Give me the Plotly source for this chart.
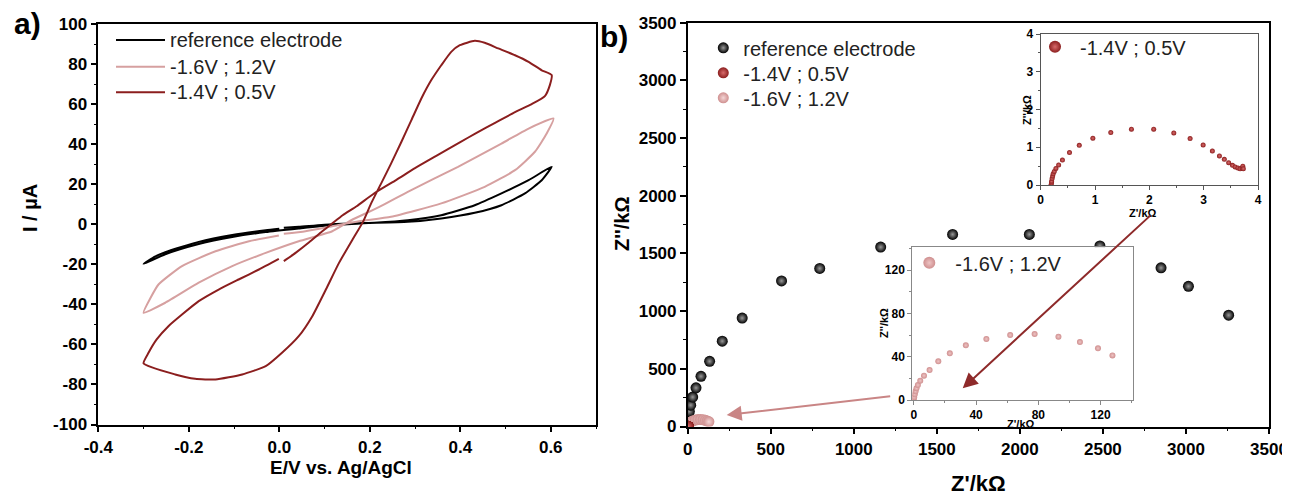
import plotly.graph_objects as go

# The page body adds an 8 px margin, so every position is shifted by it
OFF = 8
W, H = 1290, 495

# ---------------- Panel a: cyclic voltammograms ----------------
cv_ref_E = [0.010, 0.043, 0.117, 0.191, 0.284, 0.358, 0.432, 0.491, 0.543, 0.580, 0.602,
            0.551, 0.491, 0.432, 0.358, 0.284, 0.210, 0.117, 0.043, -0.030, -0.104, -0.178,
            -0.252, -0.300, -0.275, -0.252, -0.178, -0.104, -0.030, 0.000]
cv_ref_I = [-1.8, -1.3, 0.0, 0.6, 1.2, 2.9, 5.7, 9.5, 15.4, 22.0, 28.7,
            22.0, 15.4, 9.5, 4.5, 2.0, 0.7, -0.4, -2.1, -3.9, -6.4, -9.9,
            -15.0, -19.8, -16.2, -13.9, -8.8, -5.4, -3.0, -2.2]

cv_16_E = [0.010, 0.058, 0.117, 0.176, 0.247, 0.358, 0.454, 0.521, 0.565, 0.591, 0.606,
           0.551, 0.491, 0.395, 0.284, 0.220, 0.159, 0.117, 0.043, -0.030, -0.104, -0.178,
           -0.252, -0.300, -0.285, -0.267, -0.215, -0.141, -0.067, -0.001]
cv_16_I = [-4.8, -3.5, -1.0, 1.5, 3.7, 10.4, 18.7, 27.0, 36.2, 45.3, 52.8,
           47.8, 40.3, 28.7, 16.2, 8.5, 2.0, -3.5, -8.5, -14.3, -20.9, -29.2,
           -39.2, -44.2, -37.0, -30.1, -20.9, -13.5, -8.5, -5.6]

cv_14_E = [0.010, 0.036, 0.066, 0.095, 0.115, 0.140, 0.171, 0.210, 0.259, 0.300, 0.346,
           0.400, 0.434, 0.480, 0.521, 0.558, 0.587, 0.598, 0.602, 0.580, 0.551, 0.521,
           0.484, 0.454, 0.432, 0.399, 0.380, 0.358, 0.336, 0.314, 0.292, 0.270, 0.247,
           0.225, 0.203, 0.185, 0.162, 0.132, 0.103, 0.073, 0.043, 0.006, -0.030, -0.082,
           -0.141, -0.186, -0.230, -0.300, -0.289, -0.271, -0.245, -0.215, -0.178, -0.134,
           -0.090, -0.045, -0.001]
cv_14_I = [-18.4, -14.3, -9.0, -3.5, 0.0, 4.5, 9.0, 15.5, 22.2, 28.0, 34.0,
           41.0, 45.4, 51.0, 56.0, 60.0, 64.0, 69.5, 74.5, 76.9, 81.1, 84.4,
           87.8, 90.6, 91.6, 89.4, 86.1, 79.4, 72.0, 62.8, 52.0, 41.2, 30.3,
           20.3, 10.4, 1.2, -7.6, -19.3, -32.6, -45.9, -55.9, -64.2, -70.9, -75.0,
           -77.5, -77.2, -75.0, -69.5, -64.2, -57.5, -50.9, -45.1, -38.4, -32.6,
           -27.6, -22.6, -17.3]

cv_E_ticks = [-0.4, -0.2, 0.0, 0.2, 0.4, 0.6]
cv_E_ticktext = ["-0.4", "-0.2", "0.0", "0.2", "0.4", "0.6"]
cv_I_ticks = [-100, -80, -60, -40, -20, 0, 20, 40, 60, 80, 100]
cv_I_ticktext = ["-100", "-80", "-60", "-40", "-20", "0", "20", "40", "60", "80", "100"]

# ---------------- Panel b: Nyquist plots ----------------
eis_ref_x = [6, 10, 18, 30, 50, 80, 132, 208, 328, 565, 795, 1162, 1595, 2057, 2482, 2850, 3015, 3257]
eis_ref_y = [70, 130, 185, 255, 335, 435, 565, 740, 940, 1262, 1370, 1555, 1665, 1665, 1565, 1375, 1215, 965]

eis_14_x = [0.19, 0.20, 0.20, 0.21, 0.22, 0.23, 0.25, 0.28, 0.33, 0.40, 0.53, 0.71, 0.96, 1.29, 1.67,
            2.08, 2.45, 2.75, 2.99, 3.16, 3.29, 3.38, 3.46, 3.53, 3.58, 3.63, 3.67, 3.71, 3.72, 3.73]
eis_14_y = [0.00, 0.05, 0.10, 0.17, 0.24, 0.30, 0.36, 0.44, 0.53, 0.66, 0.86, 1.05, 1.24, 1.39, 1.48,
            1.48, 1.38, 1.23, 1.06, 0.90, 0.77, 0.68, 0.59, 0.52, 0.48, 0.45, 0.43, 0.45, 0.50, 0.43]

eis_16_x = [0.0, 0.2, 0.6, 1.1, 1.7, 2.6, 4.1, 6.5, 10.1, 15.7, 23.1, 33.4, 46.6, 61.9, 77.6,
            92.9, 106.7, 118.3, 127.6]
eis_16_y = [0.0, 2.5, 5.2, 8.0, 10.8, 13.8, 17.8, 22.5, 27.7, 35.7, 43.1, 50.5, 56.3, 60.0, 60.9,
            58.5, 53.5, 47.7, 41.2]

z_ticks = [0, 500, 1000, 1500, 2000, 2500, 3000, 3500]
in1_ticks = [0, 1, 2, 3, 4]
in2_ticks = [0, 40, 80, 120]

legend_a_labels = ["reference electrode", "-1.6V ; 1.2V", "-1.4V ; 0.5V"]
name_ref, name_14, name_16 = "reference electrode", "-1.4V ; 0.5V", "-1.6V ; 1.2V"

DARK = "#8b1e1e"
PINK = "#d6a0a0"
PINK_M = "#cf8f8f"
FONT = "Liberation Sans"


def px(x):
    return (x - OFF) / W


def py(y):
    return 1 - (y - OFF) / H


def bold(labels):
    return ["<b>%s</b>" % str(t) for t in labels]


fig = go.Figure()

# panel a traces
fig.add_trace(go.Scatter(x=cv_ref_E, y=cv_ref_I, mode="lines",
                         line=dict(color="black", width=2, shape="spline", smoothing=0.5),
                         xaxis="x", yaxis="y", showlegend=False, name=legend_a_labels[0]))
fig.add_trace(go.Scatter(x=cv_16_E, y=cv_16_I, mode="lines",
                         line=dict(color=PINK, width=2, shape="spline", smoothing=0.5),
                         xaxis="x", yaxis="y", showlegend=False, name=legend_a_labels[1]))
fig.add_trace(go.Scatter(x=cv_14_E, y=cv_14_I, mode="lines",
                         line=dict(color=DARK, width=2, shape="spline", smoothing=0.5),
                         xaxis="x", yaxis="y", showlegend=False, name=legend_a_labels[2]))

# panel b traces (one legend per entry so rows sit where the reference has them)
fig.add_trace(go.Scatter(x=eis_ref_x, y=eis_ref_y, mode="markers", name=name_ref,
                         marker=dict(color="black", size=11, gradient=dict(type="radial", color="#999999")),
                         xaxis="x2", yaxis="y2", legend="legend2"))
fig.add_trace(go.Scatter(x=eis_16_x, y=eis_16_y, mode="markers", name=name_16,
                         marker=dict(color=PINK_M, size=11, gradient=dict(type="radial", color="#f3d6d6")),
                         xaxis="x2", yaxis="y2", legend="legend6"))
fig.add_trace(go.Scatter(x=eis_14_x, y=eis_14_y, mode="markers", name=name_14,
                         marker=dict(color=DARK, size=11, gradient=dict(type="radial", color="#d86a6a")),
                         xaxis="x2", yaxis="y2", legend="legend5"))

# inset 1
fig.add_trace(go.Scatter(x=eis_14_x, y=eis_14_y, mode="markers", name=name_14,
                         marker=dict(color=DARK, size=5, gradient=dict(type="radial", color="#d86a6a")),
                         xaxis="x3", yaxis="y3", legend="legend3"))
# inset 2
fig.add_trace(go.Scatter(x=eis_16_x, y=eis_16_y, mode="markers", name=name_16,
                         marker=dict(color=PINK_M, size=6, gradient=dict(type="radial", color="#eec4c4")),
                         xaxis="x4", yaxis="y4", legend="legend4"))

tickfont_main = dict(family=FONT, size=17, color="black")
tickfont_inset = dict(family=FONT, size=12, color="black")


def main_axis(domain, rng, tickvals, ticktext, minor, anchor):
    return dict(domain=domain, range=rng, tickmode="array", tickvals=tickvals, ticktext=bold(ticktext),
                showline=True, linecolor="black", linewidth=1.6, mirror=True,
                ticks="outside", ticklen=6, tickwidth=1.5, tickcolor="black",
                minor=dict(ticks="outside", ticklen=3, tickwidth=1.2, dtick=minor, tick0=0, tickcolor="black"),
                showgrid=False, zeroline=False, tickfont=tickfont_main, anchor=anchor, automargin=False)


def inset_axis(domain, rng, tickvals, minor, color, anchor):
    return dict(domain=domain, range=rng, tickmode="array", tickvals=tickvals, ticktext=bold(tickvals),
                showline=True, linecolor=color, linewidth=1, mirror=True,
                ticks="outside", ticklen=4, tickwidth=1, tickcolor=color,
                minor=dict(ticks="outside", ticklen=2, tickwidth=1, dtick=minor, tick0=0, tickcolor=color),
                showgrid=False, zeroline=False, tickfont=tickfont_inset, anchor=anchor, automargin=False)


def legend_at(marker_x, marker_y, sizing, itemwidth=30):
    # plotly puts the symbol ~20 px right of and ~20 px below the legend's top-left corner
    return dict(x=px(marker_x - 20 - (itemwidth - 30) / 2), y=py(marker_y - 20),
                xanchor="left", yanchor="top", bgcolor="rgba(0,0,0,0)", itemsizing=sizing,
                itemwidth=itemwidth, font=dict(family=FONT, size=20, color="#222222"))


layout = dict(
    template="none",
    width=W, height=H, margin=dict(l=0, r=0, t=0, b=0, pad=0, autoexpand=False),
    paper_bgcolor="white", plot_bgcolor="white",
    xaxis=main_axis([px(98.3), px(596)], [-0.4, 0.7], cv_E_ticks, cv_E_ticktext, 0.1, "y"),
    yaxis=main_axis([py(424.5), py(24)], [-100, 100], cv_I_ticks, cv_I_ticktext, 10, "x"),
    xaxis2=main_axis([px(687.7), px(1269)], [0, 3500], z_ticks, z_ticks, 250, "y2"),
    yaxis2=main_axis([py(426.5), py(22.7)], [0, 3500], z_ticks, z_ticks, 250, "x2"),
    xaxis3=inset_axis([px(1040.7), px(1258)], [0, 4], in1_ticks, 0.5, "#555555", "y3"),
    yaxis3=inset_axis([py(185), py(34)], [0, 4], in1_ticks, 0.5, "#555555", "x3"),
    xaxis4=inset_axis([px(912.3), px(1133.3)], [-1, 141], in2_ticks, 20, "#888888", "y4"),
    yaxis4=inset_axis([py(400), py(247.3)], [0, 141], in2_ticks, 20, "#888888", "x4"),
    legend2=legend_at(723.3, 48.3, "trace"),
    legend5=legend_at(723.3, 73.3, "trace"),
    legend6=legend_at(723.3, 98.3, "trace"),
    legend3=legend_at(1055, 47.3, "constant", 40),
    legend4=legend_at(929.3, 263.3, "constant", 42),
)
fig.update_layout(**layout)

shapes = [
    dict(type="rect", xref="x4", yref="y4", x0=-1, x1=141, y0=0, y1=141, layer="below",
         fillcolor="white", line=dict(width=0)),
    dict(type="rect", xref="x3", yref="y3", x0=0, x1=4, y0=0, y1=4, layer="below",
         fillcolor="white", line=dict(width=0)),
]
legend_a_colors = ["black", PINK, DARK]
legend_a_rows = [40, 66.7, 92.3]
annotations = []
for lab, col, yy in zip(legend_a_labels, legend_a_colors, legend_a_rows):
    shapes.append(dict(type="line", xref="paper", yref="paper", x0=px(116), x1=px(165), y0=py(yy), y1=py(yy),
                       line=dict(color=col, width=2)))
    annotations.append(dict(text=lab, xref="paper", yref="paper", x=px(168), y=py(yy), xanchor="left",
                            yanchor="middle", showarrow=False, font=dict(family=FONT, size=20, color="#222222")))


def title(text, x, y, size, angle=0):
    return dict(text="<b>%s</b>" % text, xref="paper", yref="paper", x=px(x), y=py(y),
                xanchor="center", yanchor="middle", showarrow=False, textangle=angle,
                font=dict(family=FONT, size=size, color="black"))


annotations += [
    title("a)", 27, 24, 30),
    title("b)", 614, 36, 30),
    title("I / µA", 30, 208, 20, -90),
    title("E/V vs. Ag/AgCl", 341, 467, 19),
    title("Z''/kΩ", 622, 224, 20, -90),
    title("Z'/kΩ", 978, 483, 22),
    title("Z'/kΩ", 1143, 213, 11),
    title("Z''/kΩ", 1027, 110, 11, -90),
    title("Z'/kΩ", 1021, 424, 11),
    title("Z''/kΩ", 884, 323, 11, -90),
    dict(text="", xref="paper", yref="paper", x=px(962.7), y=py(388.3), ax=189.3, ay=-174.3,
         showarrow=True, arrowhead=2, arrowsize=1.5, arrowwidth=2, arrowcolor="#8e2a2a"),
    dict(text="", xref="paper", yref="paper", x=px(726.7), y=py(415), ax=165, ay=-19,
         showarrow=True, arrowhead=2, arrowsize=1.5, arrowwidth=2, arrowcolor="#c98585"),
]
fig.update_layout(shapes=shapes, annotations=annotations)

fig.write_html("out.html")
